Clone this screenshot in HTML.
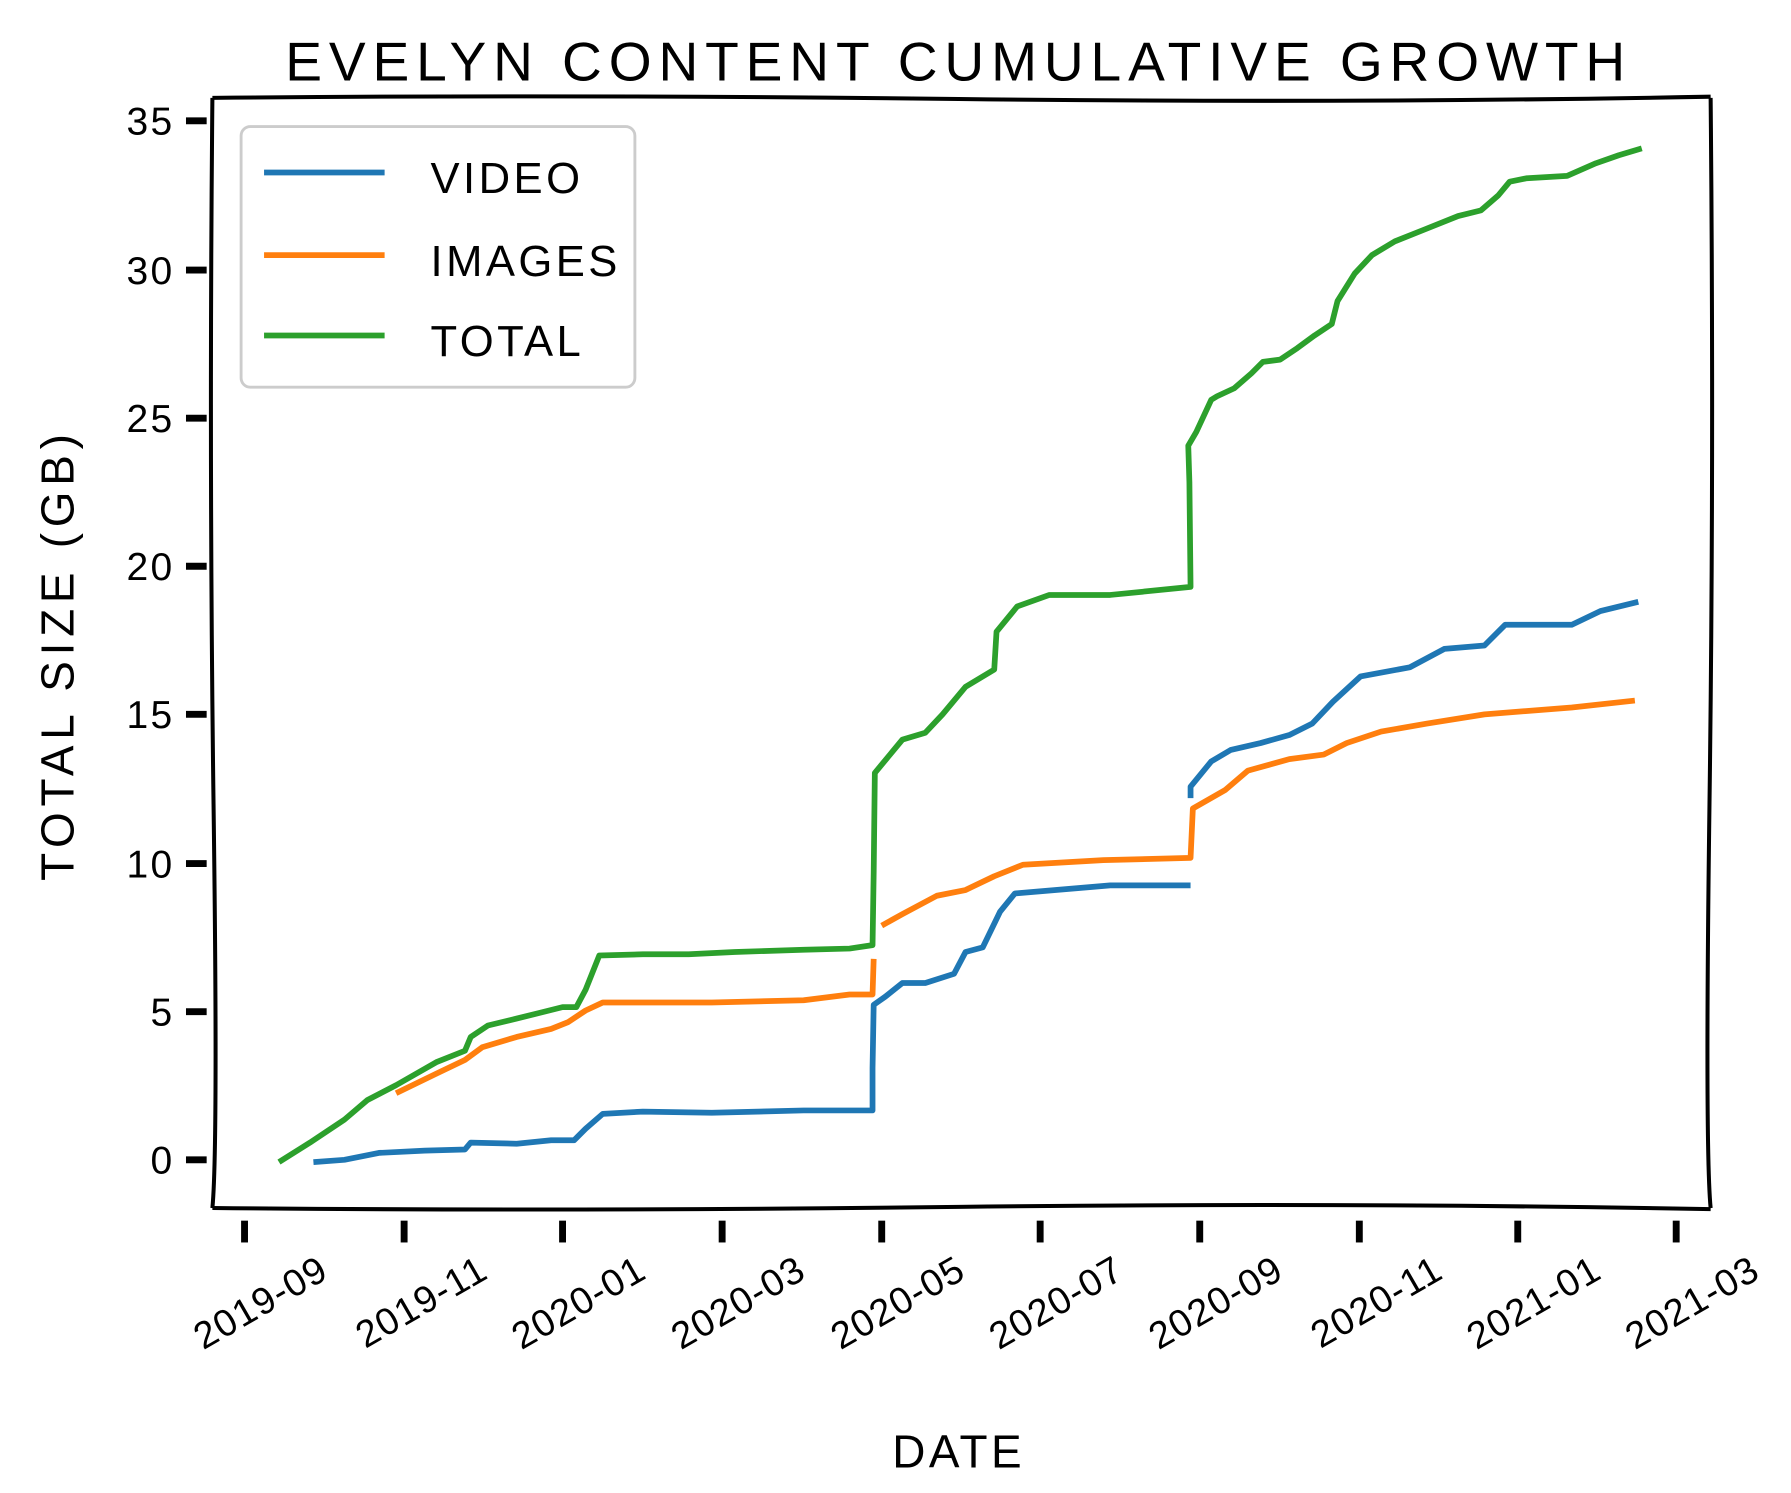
<!DOCTYPE html>
<html><head><style>html,body{margin:0;padding:0;background:#fff}svg{display:block}</style></head>
<body>
<svg width="1791" height="1493" viewBox="0 0 1560 1300" xmlns="http://www.w3.org/2000/svg" font-family="Liberation Sans, DejaVu Sans, sans-serif">
<rect width="1560" height="1300" fill="#fff"/>
<text x="835" y="70" font-size="48" text-anchor="middle" fill="#000" letter-spacing="6">EVELYN CONTENT CUMULATIVE GROWTH</text>
<g stroke="#000" stroke-width="3.5" fill="none">
<path d="M185,85 Q500,82 835,86 T1490,84"/>
<path d="M185,1052 Q500,1055 835,1051 T1490,1053"/>
<path d="M185,85 Q182,400 186,700 T185,1052"/>
<path d="M1490,85 Q1493,400 1489,700 T1490,1052"/>
</g>
<g stroke="#000" stroke-width="6">
<line x1="162" y1="1010" x2="180" y2="1010"/><line x1="162" y1="881" x2="180" y2="881"/><line x1="162" y1="752" x2="180" y2="752"/><line x1="162" y1="622" x2="180" y2="622"/><line x1="162" y1="493" x2="180" y2="493"/><line x1="162" y1="364" x2="180" y2="364"/><line x1="162" y1="235" x2="180" y2="235"/><line x1="162" y1="105" x2="180" y2="105"/>
<line x1="213" y1="1063" x2="213" y2="1082"/><line x1="352" y1="1063" x2="352" y2="1082"/><line x1="490" y1="1063" x2="490" y2="1082"/><line x1="629" y1="1063" x2="629" y2="1082"/><line x1="768" y1="1063" x2="768" y2="1082"/><line x1="906" y1="1063" x2="906" y2="1082"/><line x1="1045" y1="1063" x2="1045" y2="1082"/><line x1="1184" y1="1063" x2="1184" y2="1082"/><line x1="1322" y1="1063" x2="1322" y2="1082"/><line x1="1460" y1="1063" x2="1460" y2="1082"/>
</g>
<g font-size="34" text-anchor="end" fill="#000" letter-spacing="2">
<text x="152" y="1022">0</text><text x="152" y="893">5</text><text x="152" y="764">10</text><text x="152" y="634">15</text><text x="152" y="505">20</text><text x="152" y="376">25</text><text x="152" y="247">30</text><text x="152" y="117">35</text>
</g>
<g font-size="33" text-anchor="end" fill="#000" letter-spacing="1">
<text transform="translate(288,1112) rotate(-30)">2019-09</text>
<text transform="translate(427,1112) rotate(-30)">2019-11</text>
<text transform="translate(565,1112) rotate(-30)">2020-01</text>
<text transform="translate(704,1112) rotate(-30)">2020-03</text>
<text transform="translate(843,1112) rotate(-30)">2020-05</text>
<text transform="translate(981,1112) rotate(-30)">2020-07</text>
<text transform="translate(1120,1112) rotate(-30)">2020-09</text>
<text transform="translate(1259,1112) rotate(-30)">2020-11</text>
<text transform="translate(1397,1112) rotate(-30)">2021-01</text>
<text transform="translate(1535,1112) rotate(-30)">2021-03</text>
</g>
<text x="835" y="1278" font-size="40" text-anchor="middle" letter-spacing="3">DATE</text>
<text transform="translate(64,570) rotate(-90)" font-size="40" text-anchor="middle" letter-spacing="5">TOTAL SIZE (GB)</text>
<g fill="none" stroke-width="5" stroke-linejoin="round">
<polyline stroke="#1f77b4" points="273,1012 300,1010 330,1004 370,1002 405,1001 410,995 450,996 480,993 500,993 510,983 525,970 560,968 620,969 700,967 760,967 760,930 761,875 771,868 786,856 806,856 831,848 841,829 856,825 871,794 884,778 967,771 1037,771"/>
<polyline stroke="#1f77b4" points="1037,695 1037,685 1055,663 1072,653 1098,647 1123,640 1143,630 1161,611 1185,589 1228,581 1258,565 1293,562 1311,544 1369,544 1394,532 1427,524"/>
<polyline stroke="#ff7f0e" points="345,952 380,935 405,923 420,912 450,903 480,896 495,890 510,880 525,873 560,873 620,873 700,871 740,866 760,866 761,835"/>
<polyline stroke="#ff7f0e" points="768,806 786,796 816,780 841,775 866,763 891,753 961,749 1037,747 1039,704 1067,688 1087,671 1123,661 1153,657 1173,647 1203,637 1243,630 1293,622 1369,616 1424,610"/>
<polyline stroke="#2ca02c" points="243,1012 270,995 300,975 320,958 345,945 380,925 405,915 410,903 425,893 450,887 470,882 490,877 502,877 510,862 522,832 560,831 600,831 640,829 700,827 740,826 760,823 761,760 762,673 786,644 806,638 821,622 841,598 866,583 868,550 886,528 914,518 967,518 1037,511 1036,420 1035,388 1042,376 1055,348 1060,345 1075,338 1090,325 1100,315 1115,313 1130,303 1145,292 1160,282 1165,262 1180,238 1195,222 1215,210 1240,200 1270,188 1290,183 1305,170 1315,158 1330,155 1365,153 1390,142 1410,135 1430,129"/>
</g>
<rect x="210" y="110" width="343" height="227" rx="8" fill="#fff" fill-opacity="0.8" stroke="#ccc" stroke-width="2.5"/>
<g stroke-width="5"><line x1="230" y1="150" x2="335" y2="150" stroke="#1f77b4"/><line x1="230" y1="222" x2="335" y2="222" stroke="#ff7f0e"/><line x1="230" y1="292" x2="335" y2="292" stroke="#2ca02c"/></g>
<g font-size="38" fill="#000" letter-spacing="3"><text x="375" y="168">VIDEO</text><text x="375" y="240">IMAGES</text><text x="375" y="310">TOTAL</text></g>
</svg>
</body></html>
